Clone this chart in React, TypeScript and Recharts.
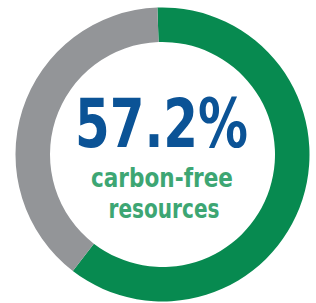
import { PieChart, Pie, Cell, Label } from "recharts";

// shares as drawn on the ring (green arc is a bit larger than the label says)
const SEGMENTS = ["Carbon-free", "Other"];
const SHARES = [61, 39];
const COLORS = ["#078a50", "#939598"];

const HEADLINE = "57.2%";
const CAPTION = ["carbon-free", "resources"];

const data = SEGMENTS.map((name, i) => ({ name, value: SHARES[i] }));

const CX = 162.5;
const CY = 154.5;
const FONT = "'Liberation Sans Narrow', 'DejaVu Sans Condensed', 'Liberation Sans', Arial, sans-serif";

function CenterText() {
  return (
    <g>
      <text x={CX - 1} y={CY - 8} textAnchor="middle" fill="#0b5396" fontFamily={FONT}
        fontWeight="bold" fontSize={67} textLength={173} lengthAdjust="spacingAndGlyphs">
        {HEADLINE}
      </text>
      <text x={CX - 0.5} y={CY + 32.5} textAnchor="middle" fill="#3da673" fontFamily={FONT}
        fontWeight="bold" fontSize={26} textLength={142} lengthAdjust="spacingAndGlyphs">
        {CAPTION[0]}
      </text>
      <text x={CX + 1.5} y={CY + 63.5} textAnchor="middle" fill="#3da673" fontFamily={FONT}
        fontWeight="bold" fontSize={26} textLength={111} lengthAdjust="spacingAndGlyphs">
        {CAPTION[1]}
      </text>
    </g>
  );
}

export default function App() {
  return (
    <div style={{ position: "absolute", left: 0, top: 0, width: 316, height: 303, background: "#fff" }}>
      <PieChart width={316} height={303} margin={{ top: 0, right: 0, bottom: 0, left: 0 }}>
        <Pie
          data={data}
          dataKey="value"
          nameKey="name"
          cx={CX}
          cy={CY}
          innerRadius={112.5}
          outerRadius={147}
          startAngle={92}
          endAngle={-268}
          stroke="none"
          isAnimationActive={false}
        >
          {data.map((d, i) => (
            <Cell key={d.name} fill={COLORS[i]} />
          ))}
          <Label position="center" content={() => <CenterText />} />
        </Pie>
      </PieChart>
    </div>
  );
}
